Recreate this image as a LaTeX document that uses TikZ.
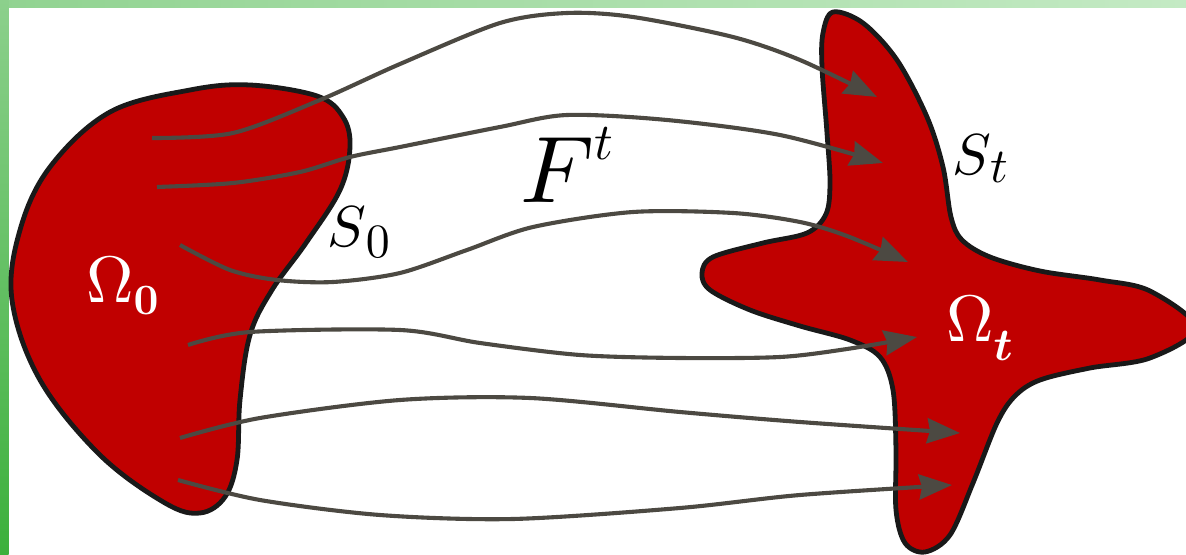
\documentclass[tikz,border=0pt]{standalone}
\usepackage{graphicx}
\usepackage{amsmath}
\usetikzlibrary{arrows.meta}
\definecolor{blobred}{RGB}{192,0,0}
\definecolor{flowgray}{RGB}{76,73,66}
\definecolor{bandleft}{RGB}{145,211,145}
\definecolor{bandmid}{RGB}{245,251,245}
\definecolor{bandright}{RGB}{196,234,196}
\definecolor{sidetop}{RGB}{140,208,140}
\definecolor{sidebot}{RGB}{60,176,60}
\newcommand{\mth}[2]{\scalebox{#1}{$#2$}}

\begin{document}
\begin{tikzpicture}[x=1bp,y=-1bp,blob/.style={draw=black!90,line width=4.8bp,fill=blobred,line join=round},arr/.style={draw=flowgray,line width=4.1bp,-{Stealth[length=33bp,width=25bp,inset=3bp]}},lbl/.style={inner sep=0,anchor=base west}]
\useasboundingbox (0,0) rectangle (1186,555);
% green frame
\shade[left color=bandleft,middle color=bandmid,right color=bandright] (0,0) rectangle (1186,8);
\shade[top color=sidetop,bottom color=sidebot] (0,0) rectangle (8.5,555);
% regions
\draw[blob] plot[smooth cycle,tension=0.6] coordinates {(250,85) (317,96) (343,117) (350,147) (340,190) (306,243) (272,290) (250,335) (240,400) (237,460) (225,497) (200,513) (165,503) (100,455) (40,380) (12,300) (20,230) (50,167) (110,112) (190,90)};
\draw[blob] plot[smooth cycle,tension=0.55] coordinates {(833,12) (863,23) (897,60) (927,117) (943,167) (951,217) (962,240) (990,257) (1040,271) (1100,280) (1150,291) (1196,328) (1150,358) (1090,368) (1040,380) (1015,396) (997,423) (973,483) (950,535) (925,552) (905,543) (896,510) (896,450) (893,390) (880,357) (850,340) (800,326) (750,310) (710,290) (702,273) (713,257) (763,243) (807,233) (826,214) (830,183) (827,133) (822,67) (823,33)};
% flow lines
\coordinate (a1) at (152,138); \coordinate (b1) at (877,97);
\coordinate (a2) at (157,187); \coordinate (b2) at (883,163);
\coordinate (a3) at (180,245); \coordinate (b3) at (908,262);
\coordinate (a4) at (188,345); \coordinate (b4) at (917,337);
\coordinate (a5) at (180,438); \coordinate (b5) at (960,433);
\coordinate (a6) at (178,480); \coordinate (b6) at (952,485);
\draw[arr] plot[smooth] coordinates {(a1) (233,133) (320,100) (400,64) (500,23) (567,13) (633,17) (733,37) (800,60) (b1)};
\draw[arr] plot[smooth] coordinates {(a2) (233,183) (300,172) (350,157) (400,147) (500,127) (567,115) (667,120) (780,135) (b2)};
\draw[arr] plot[smooth] coordinates {(a3) (230,270) (277,280) (333,282) (400,273) (467,250) (533,227) (633,212) (733,213) (800,222) (847,236) (b3)};
\draw[arr] plot[smooth] coordinates {(a4) (250,332) (400,330) (480,343) (580,355) (680,358) (780,357) (847,349) (b4)};
\draw[arr] plot[smooth] coordinates {(a5) (260,418) (400,400) (530,398) (680,412) (800,422) (b5)};
\draw[arr] plot[smooth] coordinates {(a6) (260,500) (380,515) (513,519) (680,508) (800,495) (b6)};
% labels
\node[lbl,text=white] (om0) at (86,303) {\mth{6.6}{\Omega}\raisebox{-12bp}{\mth{4.35}{\mathbf{0}}}};
\node[lbl,text=white] (omt) at (946,342) {\mth{6.6}{\Omega}\raisebox{-19bp}{\mth{4.6}{\boldsymbol{t}}}};
\node[lbl] (s0) at (327,247) {\mth{5.8}{S}\raisebox{-11bp}{\mth{4.8}{0}}};
\node[lbl] (st) at (952,175) {\mth{5.8}{S}\raisebox{-8bp}{\mth{4.9}{t}}};
\node[lbl] (ft) at (520,203) {\mth{9.5}{F}\raisebox{43bp}{\mth{5.2}{t}}};
\end{tikzpicture}
\end{document}
